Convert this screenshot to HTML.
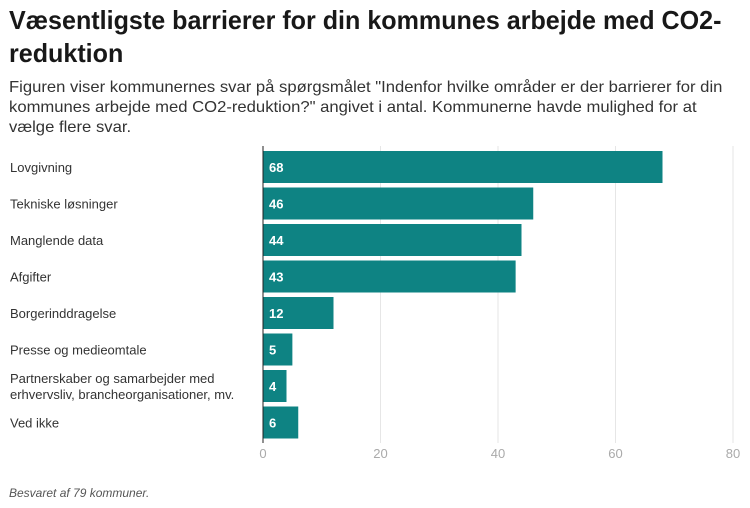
<!DOCTYPE html>
<html><head><meta charset="utf-8"><style>
body{margin:0;background:#fff;width:750px;height:508px;overflow:hidden;font-family:"Liberation Sans",sans-serif;position:relative}
.t{position:absolute;left:9px;white-space:nowrap;transform-origin:0 0}
#title{top:4px;font-size:26px;font-weight:bold;color:#181818;line-height:33px;transform:scaleX(0.965)}
#sub{top:78px;font-size:16px;color:#333;line-height:20px;transform:scaleX(1.04)}
#foot{position:absolute;left:9px;top:486px;font-size:12px;font-style:italic;color:#555}
</style></head><body>
<div id="title" class="t">Væsentligste barrierer for din kommunes arbejde med CO2-<br>reduktion</div>
<div id="sub" class="t">Figuren viser kommunernes svar på spørgsmålet "Indenfor hvilke områder er der barrierer for din<br>kommunes arbejde med CO2-reduktion?" angivet i antal. Kommunerne havde mulighed for at<br>vælge flere svar.</div>
<svg id="chart" width="750" height="508" style="position:absolute;left:0;top:0"></svg>
<div id="foot">Besvaret af 79 kommuner.</div>
<script>
const categories=["Lovgivning","Tekniske løsninger","Manglende data","Afgifter","Borgerinddragelse","Presse og medieomtale","Partnerskaber og samarbejder med|erhvervsliv, brancheorganisationer, mv.","Ved ikke"];
const values=[68,46,44,43,12,5,4,6];
const ticks=[0,20,40,60,80];
const ns="http://www.w3.org/2000/svg";
const svg=document.getElementById('chart');
const x0=263,x1=733,xmax=80;
const xs=v=>x0+(v/xmax)*(x1-x0);
const top0=151,step=36.5,bh=32;
function mk(t,a){const e=document.createElementNS(ns,t);for(const k in a)e.setAttribute(k,a[k]);svg.appendChild(e);return e;}
ticks.forEach(t=>{
  if(t>0){const g=mk('line',{x1:xs(t),x2:xs(t),y1:146,y2:443,stroke:'#e6e6e6','stroke-width':1});
  
  }
  const l=mk('text',{x:xs(t),y:458,'text-anchor':'middle','font-size':13,fill:'#aaa','font-family':'Liberation Sans'});
  l.textContent=t;
  
  
});
categories.forEach((c,i)=>{
  const y=top0+i*step;
  const r=mk('rect',{x:x0,y:y,width:xs(values[i])-x0,height:bh,fill:'#0e8383'});
  
  
  const v=mk('text',{x:x0+6,y:y+bh/2+5,'font-size':13,'font-weight':'bold',fill:'#fff','font-family':'Liberation Sans'});
  v.textContent=values[i];
  
  
  const parts=c.split('|');
  parts.forEach((p,j)=>{
    const ty=y+bh/2+5+(j-(parts.length-1)/2)*16;
    const lt=mk('text',{x:10,y:ty,'font-size':13,fill:'#333','font-family':'Liberation Sans'});
    lt.textContent=p;
    
    
  });
});
const ax=mk('line',{x1:x0,x2:x0,y1:146,y2:443,stroke:'#222','stroke-width':1});


</script>
</body></html>
